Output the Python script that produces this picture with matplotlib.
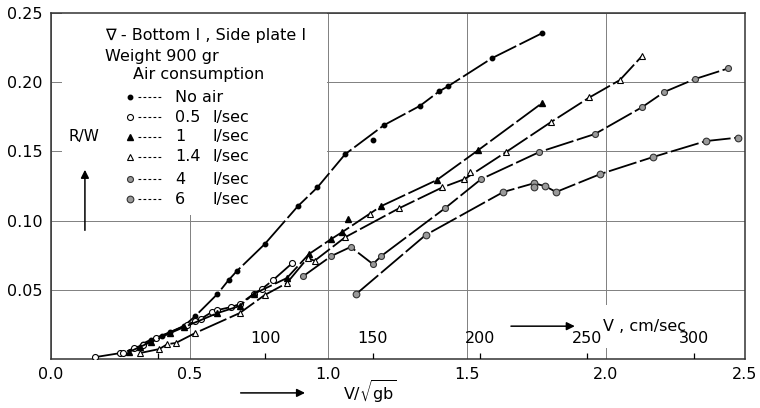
import matplotlib
matplotlib.use("Agg")
import matplotlib.pyplot as plt
import numpy as np
from matplotlib.patches import Rectangle

plt.rcParams['font.family'] = ['DejaVu Sans']
plt.rcParams['mathtext.fontset'] = 'dejavusans'

# R/W against V/sqrt(gb)
no_air_x = [0.33, 0.36, 0.40, 0.43, 0.48, 0.52, 0.60, 0.64, 0.67, 0.77, 0.89, 0.96, 1.06, 1.20, 1.33, 1.40, 1.43, 1.59, 1.77]
no_air_y = [0.011, 0.014, 0.017, 0.0195, 0.024, 0.031, 0.047, 0.057, 0.0636, 0.083, 0.1105, 0.124, 0.148, 0.169, 0.183, 0.1936, 0.197, 0.2175, 0.2355]
no_air_off_x = [1.16]
no_air_off_y = [0.158]

half_x = [0.16, 0.25, 0.26, 0.30, 0.33, 0.38, 0.49, 0.52, 0.54, 0.58, 0.60, 0.65, 0.68, 0.73, 0.76, 0.80, 0.87]
half_y = [0.0014, 0.0043, 0.0043, 0.008, 0.010, 0.015, 0.0246, 0.0275, 0.029, 0.034, 0.0354, 0.0376, 0.0397, 0.047, 0.0506, 0.057, 0.0694]

one_x = [0.28, 0.32, 0.36, 0.43, 0.48, 0.60, 0.68, 0.73, 0.85, 0.93, 1.01, 1.05, 1.19, 1.39, 1.54, 1.77]
one_y = [0.005, 0.0087, 0.0123, 0.0188, 0.0231, 0.0332, 0.0383, 0.047, 0.0585, 0.0759, 0.0867, 0.0918, 0.1105, 0.1293, 0.151, 0.185]
one_off_x = [1.07]
one_off_y = [0.1012]

onefour_x = [0.32, 0.39, 0.42, 0.45, 0.52, 0.68, 0.77, 0.85, 0.925, 0.95, 1.06, 1.255, 1.41, 1.49, 1.64, 1.80, 1.94, 2.05, 2.13]
onefour_y = [0.0043, 0.0072, 0.0108, 0.0116, 0.0188, 0.0332, 0.0462, 0.0549, 0.073, 0.071, 0.088, 0.109, 0.124, 0.130, 0.1496, 0.171, 0.189, 0.2016, 0.219]
onefour_off_x = [1.15, 1.51]
onefour_off_y = [0.105, 0.135]

four_x = [0.91, 1.01, 1.08, 1.16, 1.19, 1.42, 1.55, 1.76, 1.96, 2.13, 2.21, 2.32, 2.44]
four_y = [0.060, 0.0744, 0.081, 0.0686, 0.0744, 0.109, 0.130, 0.1496, 0.1626, 0.182, 0.193, 0.2023, 0.210]

six_x = [1.10, 1.35, 1.63, 1.74, 1.78, 1.82, 1.98, 2.17, 2.36, 2.475]
six_y = [0.047, 0.0896, 0.1207, 0.127, 0.125, 0.1207, 0.1337, 0.146, 0.1575, 0.160]
six_off_x = [1.74]
six_off_y = [0.1245]

labels_num = ["No air", "0.5", "1", "1.4", "4", "6"]
v_ticks = [50, 100, 150, 200, 250, 300]
v_labels = ["", "100", "150", "200", "250", "300"]
SQRT_GB = 129.4  # cm/sec per unit of V/sqrt(gb)
FS = 11.5

styles = [
    dict(marker='o', ms=3.2, mfc='k', mec='k'),
    dict(marker='o', ms=4.3, mfc='white', mec='k', mew=0.8),
    dict(marker='^', ms=5, mfc='k', mec='k'),
    dict(marker='^', ms=5, mfc='white', mec='k', mew=0.8),
    dict(marker='o', ms=4.3, mfc='#9a9a9a', mec='#333333', mew=0.8),
    dict(marker='o', ms=4.8, mfc='#9a9a9a', mec='#333333', mew=0.8),
]
series = [(no_air_x, no_air_y), (half_x, half_y), (one_x, one_y),
          (onefour_x, onefour_y), (four_x, four_y), (six_x, six_y)]
extras = [(no_air_off_x, no_air_off_y, 0), (one_off_x, one_off_y, 2),
          (onefour_off_x, onefour_off_y, 3), (six_off_x, six_off_y, 5)]

fig = plt.figure(figsize=(7.6, 4.08), dpi=100)
ax = fig.add_axes([0.067, 0.120, 0.913, 0.848])
ax.set_xlim(0, 2.5)
ax.set_ylim(0, 0.25)

for (xs, ys), st in zip(series, styles):
    ax.plot(xs, ys, color='k', lw=1.3, ls=(0, (16, 2)), zorder=3, **st)
for xs, ys, i in extras:
    ax.plot(xs, ys, ls='none', zorder=3, **styles[i])

ax.set_xticks([0, 0.5, 1.0, 1.5, 2.0, 2.5], ['0.0', '0.5', '1.0', '1.5', '2.0', '2.5'])
ax.set_yticks([0.05, 0.10, 0.15, 0.20, 0.25], ['0.05', '0.10', '0.15', '0.20', '0.25'])
ax.tick_params(length=0, labelsize=FS, pad=6)
ax.set_axisbelow(True)
ax.grid(True, color='#808080', lw=0.7)
for s in ax.spines.values():
    s.set_color('#333333')
    s.set_linewidth(1.1)

# white area behind the legend text
ax.add_patch(Rectangle((0.04, 0.104), 0.955, 0.146, facecolor='white', edgecolor='none', zorder=1))

# velocity scale drawn inside the plot: short marks up from the frame, labels above
ax.vlines(np.array(v_ticks) / SQRT_GB, 0, 0.0045, color='k', lw=0.9, zorder=3)
ax2 = ax.twiny()
ax2.set_xlim(0, 2.5 * SQRT_GB)
ax2.xaxis.set_ticks_position('bottom')
ax2.set_xticks(v_ticks, v_labels)
ax2.tick_params(axis='x', length=0, pad=-20, labelsize=FS)
for s in ax2.spines.values():
    s.set_visible(False)

ax.text(0.795, 0.095, 'V , cm/sec', transform=ax.transAxes, fontsize=FS, va='center', zorder=2,
        bbox=dict(facecolor='white', edgecolor='none', pad=10))
ax.annotate('', xy=(0.759, 0.095), xytext=(0.659, 0.095), xycoords='axes fraction',
            arrowprops=dict(arrowstyle='-|>', color='k', lw=1.1, mutation_scale=12))

# y label with arrow
ax.text(0.048, 0.642, 'R/W', transform=ax.transAxes, fontsize=FS - 0.5, ha='center', va='center')
ax.annotate('', xy=(0.049, 0.555), xytext=(0.049, 0.364), xycoords='axes fraction',
            arrowprops=dict(arrowstyle='-|>', color='k', lw=1.1, mutation_scale=12))

# x label with arrow
fig.text(0.451, 0.037, r'$\mathrm{V/\sqrt{gb}}$', fontsize=FS, va='center')
ax.annotate('', xy=(0.405, 0.037), xytext=(0.313, 0.037), xycoords='figure fraction',
            arrowprops=dict(arrowstyle='-|>', color='k', lw=1.1, mutation_scale=12))

# legend block
ax.text(0.078, 0.936, '\u2207 - Bottom I , Side plate I', transform=ax.transAxes, fontsize=FS, va='center')
ax.text(0.078, 0.873, 'Weight 900 gr', transform=ax.transAxes, fontsize=FS, va='center')
ax.text(0.118, 0.821, 'Air consumption', transform=ax.transAxes, fontsize=FS, va='center')
row_y = [0.757, 0.699, 0.642, 0.584, 0.520, 0.462]
for ry, lab, st in zip(row_y, labels_num, styles):
    ax.plot([0.114], [ry], transform=ax.transAxes, ls='none', **st)
    ax.plot([0.126, 0.161], [ry, ry], transform=ax.transAxes, color='k', lw=0.8, ls=(0, (2.5, 2)))
    ax.text(0.179, ry, lab, transform=ax.transAxes, fontsize=FS, va='center')
    if lab != "No air":
        ax.text(0.233, ry, 'l/sec', transform=ax.transAxes, fontsize=FS, va='center')

fig.savefig('out.png', dpi=100)
